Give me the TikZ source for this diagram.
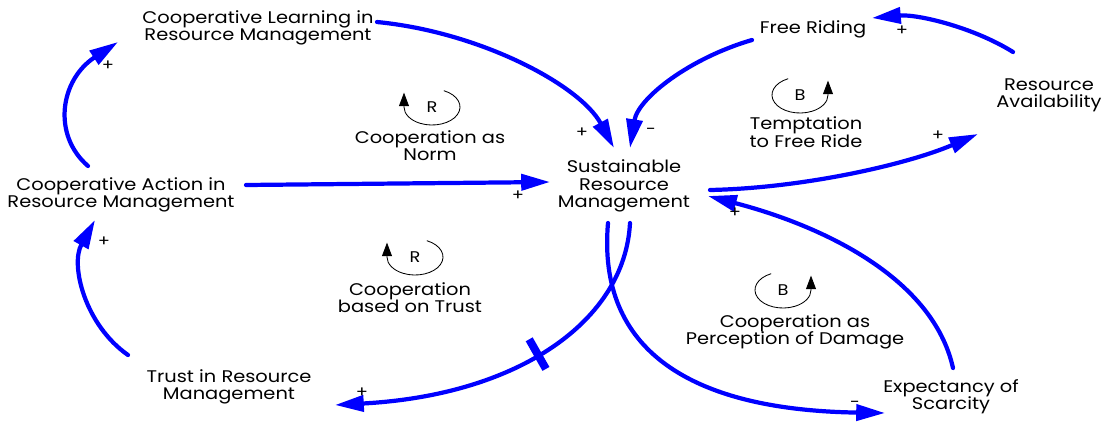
\documentclass[tikz,border=0pt]{standalone}
\usepackage{fontspec}
\setmainfont[FakeStretch=1.15]{Poppins}
\usetikzlibrary{arrows.meta}
\tikzset{
  var/.style={align=center,inner sep=0pt,font=\fontsize{12}{12.3}\selectfont},
  link/.style={draw=blue,line width=3pt,line cap=round,-{Triangle[length=0.72cm,width=0.4cm]}},
  pol/.style={inner sep=0pt,font=\fontsize{11}{11}\selectfont},
  delay/.style={fill=blue,inner sep=0pt,minimum width=0.2cm,minimum height=0.85cm},
  looptag/.style={inner sep=0pt,font=\fontsize{11}{11}\selectfont},
  loopline/.style={draw=black,line width=0.6pt,-{Triangle[length=0.34cm,width=0.25cm]}},
  loopname/.style={align=center,inner sep=0pt,font=\fontsize{12}{12.3}\selectfont},
}
\begin{document}
\begin{tikzpicture}[x=0.025cm,y=-0.025cm,line join=round]
  \useasboundingbox (0,0) rectangle (1107,422);
  % variables
  \node[var] (learn) at (258,28) {Cooperative Learning in\\Resource Management};
  \node[var] (act) at (121,195) {Cooperative Action in\\Resource Management};
  \node[var] (trust) at (229,387) {Trust in Resource\\Management};
  \node[var] (srm) at (624,186) {Sustainable\\Resource\\Management};
  \node[var] (free) at (813,29) {Free Riding};
  \node[var] (avail) at (1049,95) {Resource\\Availability};
  \node[var] (scar) at (951,397) {Expectancy of\\Scarcity};
  % links
  \draw[link] ([shift={(-33,-29)}]act.center) .. controls +(-36,-31) and +(-58,38) .. ([shift={(-140,14)}]learn.center);
  \draw[link] ([shift={(119,-6)}]learn.center) .. controls +(103,10) and +(-34,-63) .. ([shift={(-10,-38)}]srm.center);
  \draw[link] ([shift={(125,-10)}]act.center) -- ([shift={(-74,-4)}]srm.center);
  \draw[link] ([shift={(-61,11)}]free.center) .. controls +(-62,18) and +(8,-50) .. ([shift={(6,-38)}]srm.center);
  \draw[link] ([shift={(-36,-43)}]avail.center) .. controls +(-40,-25) and +(45,-4) .. ([shift={(59,-11)}]free.center);
  \draw[link] ([shift={(86,4)}]srm.center) .. controls +(95,-2) and +(-70,30) .. ([shift={(-71,39)}]avail.center);
  \draw[link] ([shift={(2,-29)}]scar.center) .. controls +(-20,-90) and +(115,30) .. ([shift={(84,10)}]srm.center);
  \draw[link] ([shift={(6,37)}]srm.center) .. controls +(-5,97) and +(185,-10) .. ([shift={(106,18)}]trust.center)
    node[delay,sloped,pos=0.54] (lag) {};
  \draw[link] ([shift={(-16,37)}]srm.center) .. controls +(-11,127) and +(-195,-3) .. ([shift={(-66,16)}]scar.center);
  \draw[link] ([shift={(-101,-32)}]trust.center) .. controls +(-43,-30) and +(-25,45) .. ([shift={(-26,25)}]act.center);
  % polarities
  \foreach \n/\x/\y/\s in {pa/108/66/+,pb/582/133/+,pc/518/196/+,pd/651/131/-,pe/902/31/+,
      pf/938/136/+,pg/735/213/+,ph/362/393/+,pi/855/404/-,pj/104/242/+}
    \node[pol] (\n) at (\x,\y) {\s};
  % loops
  \foreach \n/\x/\y/\t/\a/\b in {la/432/107/R/65/-180,lb/800/95/B/115/360,
      lc/415/257/R/65/-180,ld/783/290/B/115/360}
  {
    \node[looptag] (\n) at (\x,\y) {\t};
    \begin{scope}[shift={(\x,\y)},x=1cm,y=1cm]
      \draw[loopline] (\a:0.7 and 0.45) arc[start angle=\a,end angle=\b,x radius=0.7,y radius=0.45] -- ++(0,0.36);
    \end{scope}
  }
  \node[loopname] (na) at (430,146) {Cooperation as\\Norm};
  \node[loopname,font=\fontsize{12}{11}\selectfont] (nb) at (806,132) {Temptation\\to Free Ride};
  \node[loopname] (nc) at (410,298) {Cooperation\\based on Trust};
  \node[loopname] (nd) at (795,332) {Cooperation as\\Perception of Damage};
\end{tikzpicture}
\end{document}
